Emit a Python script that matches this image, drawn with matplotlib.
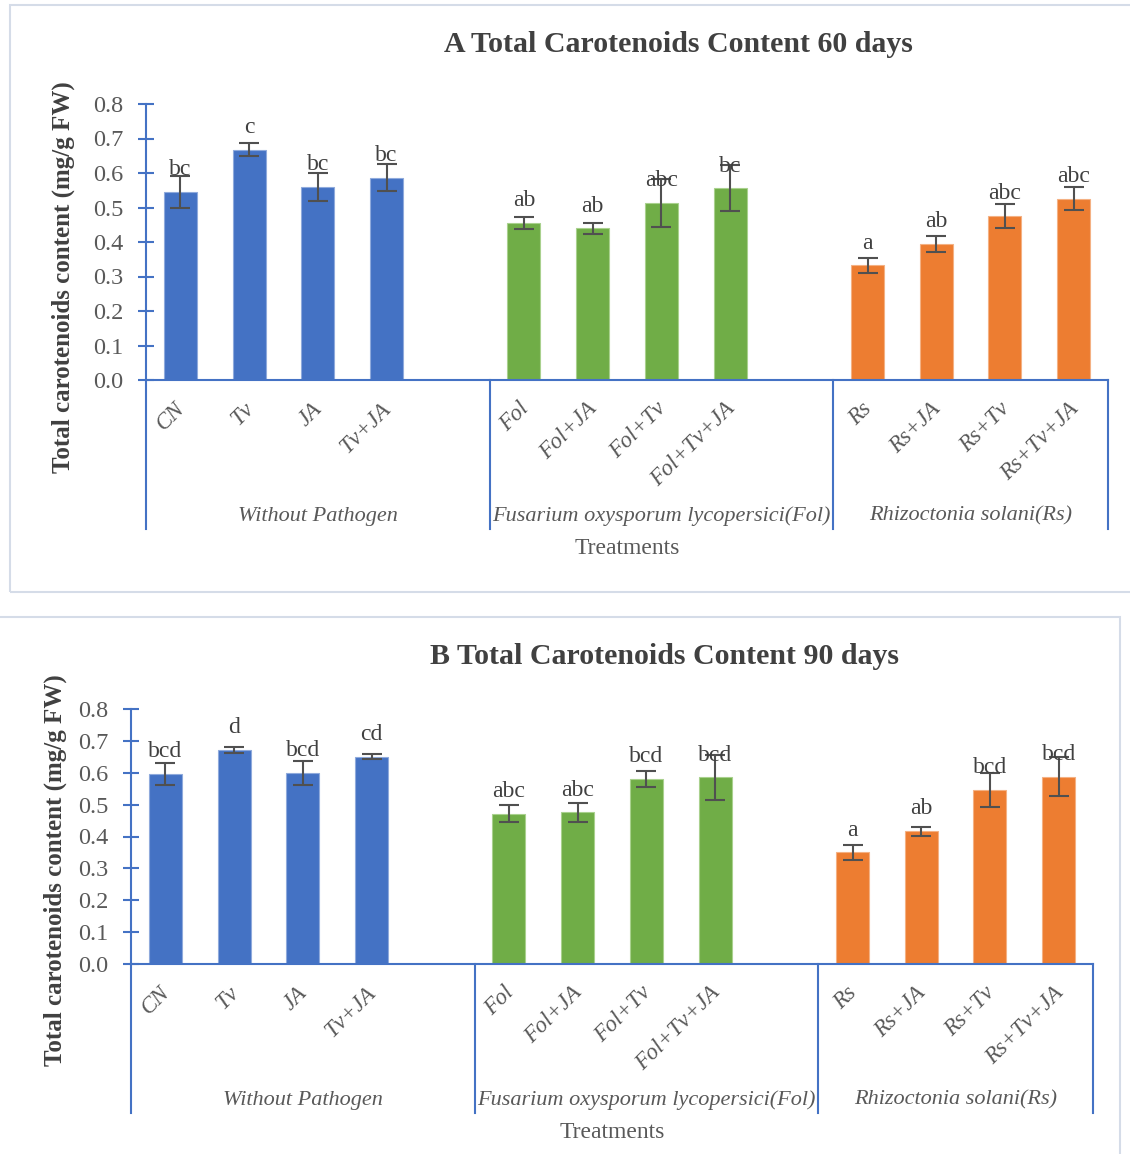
import numpy as np
import matplotlib
matplotlib.use("Agg")
import matplotlib.pyplot as plt
from matplotlib.patches import Rectangle
from matplotlib.transforms import blended_transform_factory

# ---- data ----
treatments = ["CN", "Tv", "JA", "Tv+JA",
              "Fol", "Fol+JA", "Fol+Tv", "Fol+Tv+JA",
              "Rs", "Rs+JA", "Rs+Tv", "Rs+Tv+JA"]
groups = ["Without Pathogen",
          "Fusarium oxysporum lycopersici(Fol)",
          "Rhizoctonia solani(Rs)"]

carot_60 = [0.545, 0.667, 0.560, 0.586,
            0.455, 0.440, 0.513, 0.556,
            0.332, 0.394, 0.475, 0.526]
err_60 = [0.046, 0.019, 0.041, 0.039,
          0.018, 0.016, 0.070, 0.066,
          0.023, 0.023, 0.034, 0.033]
letters_60 = ["bc", "c", "bc", "bc",
              "ab", "ab", "abc", "bc",
              "a", "ab", "abc", "abc"]

carot_90 = [0.597, 0.672, 0.599, 0.650,
            0.472, 0.476, 0.580, 0.586,
            0.350, 0.417, 0.546, 0.588]
err_90 = [0.035, 0.010, 0.038, 0.008,
          0.028, 0.029, 0.026, 0.070,
          0.024, 0.014, 0.054, 0.060]
letters_90 = ["bcd", "d", "bcd", "cd",
              "abc", "abc", "bcd", "bcd",
              "a", "ab", "bcd", "bcd"]

yticks = [0.0, 0.1, 0.2, 0.3, 0.4, 0.5, 0.6, 0.7, 0.8]

# ---- style ----
W, H, DPI = 1130, 1154, 100
plt.rcParams['font.family'] = ['Liberation Serif', 'DejaVu Serif']
AXIS_BLUE = '#4472C4'
GROUP_COLORS = ['#4472C4', '#70AD47', '#ED7D31']
EDGE_COLORS = ['#8FAADC', '#A9D18E', '#F4B183']
TXT = '#595959'
DARK = '#404040'

fig = plt.figure(figsize=(W / DPI, H / DPI), dpi=DPI)


def fx(px):
    return px / W


def fy(py):
    return 1 - py / H


def panel(title, vals, errs, letters, left, right, top, bottom,
          title_xy, ylab_xy, border):
    # chart frame
    bx0, by0, bx1, by1 = border
    fig.patches.append(Rectangle((fx(bx0), fy(by1)), (bx1 - bx0) / W,
                                 (by1 - by0) / H, transform=fig.transFigure,
                                 fill=False, edgecolor='#D5DCE8', lw=1.5))

    ax = fig.add_axes([fx(left), fy(bottom), (right - left) / W,
                       (bottom - top) / H])
    ax.set_xlim(-0.5, 13.5)
    ax.set_ylim(0, 0.8)

    xpos = [g * 5 + i for g in range(3) for i in range(4)]
    cols = [GROUP_COLORS[g] for g in range(3) for _ in range(4)]
    edges = [EDGE_COLORS[g] for g in range(3) for _ in range(4)]
    ax.bar(xpos, vals, width=0.48, color=cols, edgecolor=edges,
           linewidth=0.8, zorder=2)
    ax.errorbar(xpos, vals, yerr=errs, fmt='none', ecolor='#505050',
                elinewidth=1.5, capsize=7.5, capthick=1.5, zorder=3)
    for x, v, lab in zip(xpos, vals, letters):
        ax.annotate(lab, (x, v), xytext=(0, 12), textcoords='offset points',
                    ha='center', va='baseline', fontsize=17, color=DARK,
                    zorder=4)

    for s in ['top', 'right']:
        ax.spines[s].set_visible(False)
    for s in ['left', 'bottom']:
        ax.spines[s].set_color(AXIS_BLUE)
        ax.spines[s].set_linewidth(1.5)
    ax.set_yticks(yticks)
    ax.set_yticklabels([f"{t:.1f}" for t in yticks])
    ax.tick_params(axis='y', direction='inout', length=11, width=1.5,
                   color=AXIS_BLUE, labelsize=17.5, labelcolor=TXT, pad=11)
    ax.set_xticks([])

    tr = blended_transform_factory(ax.transData, fig.transFigure)
    # category separators of the two-level axis
    for xs in [-0.5, 4.5, 9.5, 13.5]:
        ax.plot([xs, xs], [fy(bottom), fy(bottom + 149)], transform=tr,
                color=AXIS_BLUE, lw=1.5, clip_on=False)
    # treatment labels
    for x, name in zip(xpos, treatments):
        ax.text(x + 0.02, fy(bottom + 26), name, transform=tr, rotation=45,
                rotation_mode='anchor', ha='right', va='center',
                fontstyle='italic', fontsize=16.5, color=TXT)
    # group labels
    for gx, gname in zip([2, 7, 11.5], groups):
        ax.text(gx, fy(bottom + 136), gname, transform=tr, ha='center',
                va='center', fontstyle='italic', fontsize=16, color=TXT)

    fig.text(fx((left + right) / 2), fy(bottom + 169), "Treatments",
             ha='center', va='center', fontsize=17, color=TXT)
    fig.text(fx(title_xy[0]), fy(title_xy[1]), title, ha='center',
             va='center', fontsize=21.5, fontweight='bold', color=DARK)
    fig.text(fx(ylab_xy[0]), fy(ylab_xy[1]),
             "Total carotenoids content (mg/g FW)", rotation=90,
             ha='center', va='center', fontsize=18, fontweight='bold',
             color=DARK)


panel("A Total Carotenoids Content 60 days", carot_60, err_60, letters_60,
      left=146, right=1108, top=104, bottom=380,
      title_xy=(678, 45), ylab_xy=(63, 277), border=(10, 5, 1140, 592))
panel("B Total Carotenoids Content 90 days", carot_90, err_90, letters_90,
      left=131, right=1093, top=709, bottom=964,
      title_xy=(664, 656), ylab_xy=(55, 870), border=(-5, 617, 1120, 1170))

fig.savefig("out.png", dpi=DPI)
